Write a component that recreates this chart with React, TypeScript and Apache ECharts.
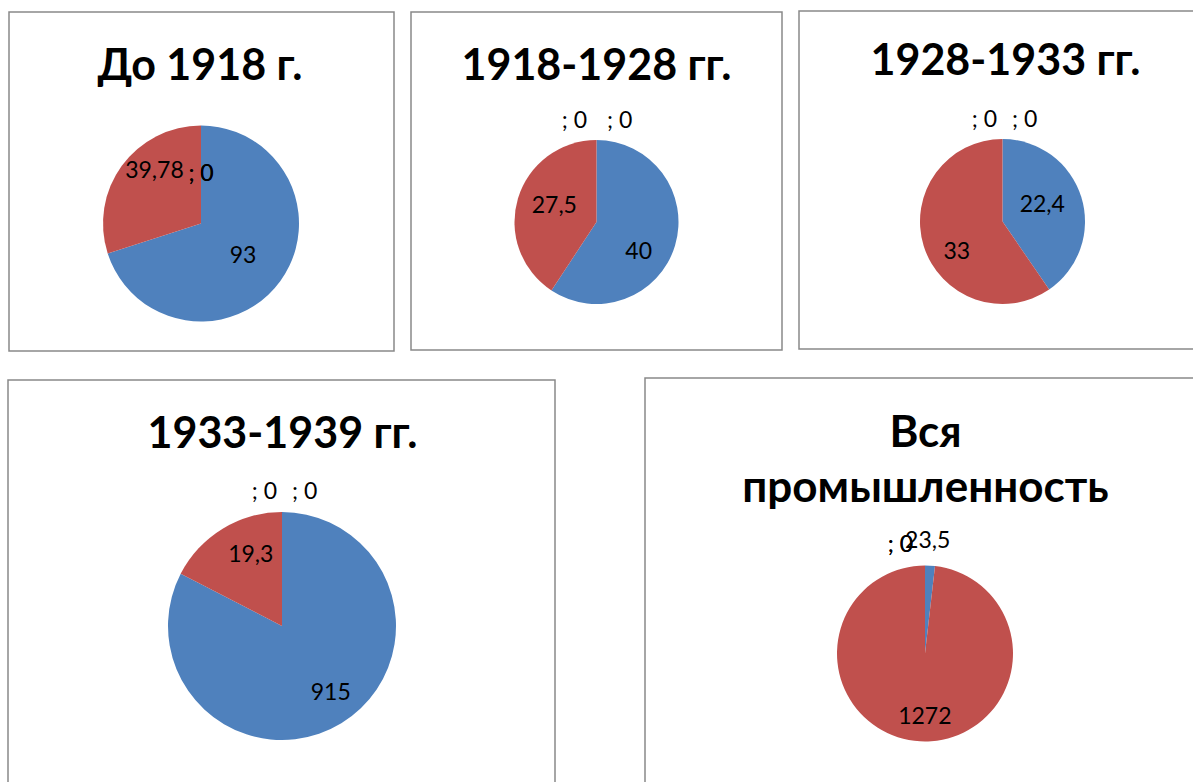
import React, { useEffect, useRef } from 'react';
import * as echarts from 'echarts';

// ---------- data ----------
const titles = ['До 1918 г.', '1918-1928 гг.', '1928-1933 гг.', '1933-1939 гг.', 'Вся\nпромышленность'];
const blueValues = [93, 40, 22.4, 91.5, 23.5];
const redValues = [39.78, 27.5, 33, 19.3, 1272];
const zeroValuesA = [0, 0, 0, 0, 0];
const zeroValuesB = [0, 0, 0, 0, 0];
const blueLabels = ['93', '40', '22,4', '915', '23,5'];
const redLabels = ['39,78', '27,5', '33', '19,3', '1272'];
const zeroLabels = ['; 0', '; 0', '; 0', '; 0', '; 0'];

// ---------- styles / layout ----------
const BLUE = '#4F81BD';
const RED = '#C0504D';
const BORDER = '#898989';
const FONT = 'Lato, "Noto Sans", "DejaVu Sans", sans-serif';

const panels = [
  { x: 9, y: 12, w: 385, h: 339 },
  { x: 411, y: 12, w: 371, h: 338 },
  { x: 799, y: 11, w: 420, h: 338 },
  { x: 8, y: 380, w: 547, h: 450 },
  { x: 645, y: 378, w: 600, h: 450 },
];
const pies = [
  { cx: 201, cy: 223.5, r: 98 },
  { cx: 596.5, cy: 222, r: 82 },
  { cx: 1002.5, cy: 221.5, r: 82.5 },
  { cx: 282, cy: 626, r: 114 },
  { cx: 925, cy: 653.5, r: 88 },
];
const titlePos = [
  { x: 200, y: 38.5, lh: 50, fs: 43 },
  { x: 596.5, y: 38, lh: 50, fs: 43 },
  { x: 1005.5, y: 33.5, lh: 50, fs: 43 },
  { x: 282.5, y: 406.5, lh: 50, fs: 43 },
  { x: 925.5, y: 402, lh: 55, fs: 44 },
];
const blueShift = [[0, 0], [0, 15], [-2.5, -5.5], [17.5, 14], [0, -67.5]];
const redShift = [[-4.5, -24], [0, -5], [-3.5, 15], [0, -21.5], [2.5, 14.5]];
const zeroPlace: any[] = [
  null,
  { aGap: 9.5, bGap: 10.5, lift: 18 },
  { aGap: 5.5, bGap: 9.5, lift: 18 },
  { aGap: 5, bGap: 10, lift: 19 },
  { aGap: 12, bGap: 12, lift: 20, bothLeft: true },
];

function buildOption() {
  return {
    animation: false,
    backgroundColor: '#ffffff',
    title: titles.map((t, i) => ({
      text: t,
      left: titlePos[i].x,
      top: titlePos[i].y,
      textAlign: 'center',
      padding: 0,
      textStyle: {
        fontFamily: FONT,
        fontWeight: 'bold',
        fontSize: titlePos[i].fs,
        color: '#000000',
        lineHeight: titlePos[i].lh,
      },
    })),
    graphic: panels.map((p) => ({
      type: 'rect',
      silent: true,
      z: -1,
      shape: { x: p.x, y: p.y, width: p.w, height: p.h },
      style: { fill: 'none', stroke: BORDER, lineWidth: 1.5 },
    })),
    series: pies.map((p, i) => ({
      type: 'pie',
      center: [p.cx, p.cy],
      radius: p.r,
      startAngle: 90,
      clockwise: true,
      avoidLabelOverlap: false,
      stillShowZeroSum: true,
      minShowLabelAngle: 0,
      silent: true,
      emphasis: { disabled: true },
      itemStyle: { borderWidth: 0 },
      label: {
        show: true,
        position: 'inside',
        color: '#000000',
        fontFamily: FONT,
        fontSize: 23,
        textBorderWidth: 0,
      },
      labelLine: { show: false },
      data: [
        { name: 'A', value: blueValues[i], itemStyle: { color: BLUE }, label: { formatter: blueLabels[i] } },
        { name: 'B', value: redValues[i], itemStyle: { color: RED }, label: { formatter: redLabels[i] } },
        { name: 'C', value: zeroValuesA[i], itemStyle: { color: BLUE }, label: { formatter: zeroLabels[i] } },
        { name: 'D', value: zeroValuesB[i], itemStyle: { color: RED }, label: { formatter: zeroLabels[i] } },
      ],
      labelLayout: (params: any) => {
        const idx = params.dataIndex;
        if (idx === 0) return { dx: blueShift[i][0], dy: blueShift[i][1] };
        if (idx === 1) return { dx: redShift[i][0], dy: redShift[i][1] };
        const z = zeroPlace[i];
        if (!z) return {};
        const dy = -(p.r * 0.5 + z.lift);
        const left = idx === 2 || z.bothLeft;
        return left
          ? { align: 'right', dx: -z.aGap, dy }
          : { align: 'left', dx: z.bGap, dy };
      },
    })),
  };
}

export default function App() {
  const ref = useRef<HTMLDivElement>(null);
  useEffect(() => {
    document.body.style.margin = '0';
    const chart = echarts.init(ref.current as HTMLDivElement, null, { renderer: 'svg' });
    chart.setOption(buildOption() as any);
    return () => chart.dispose();
  }, []);
  return <div ref={ref} style={{ width: 1193, height: 782, background: '#fff' }} />;
}
